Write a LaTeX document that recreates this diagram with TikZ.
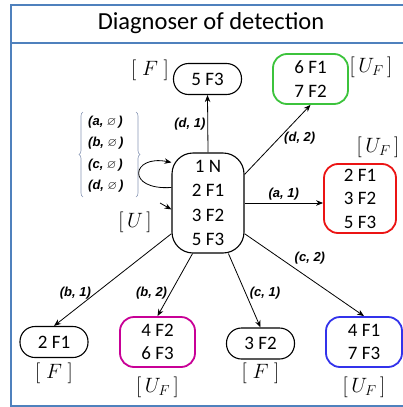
\documentclass[tikz,border=0pt]{standalone}
\usepackage{amssymb}
\usepackage{fontspec}
\setmainfont{Carlito}
\newfontfamily\arialfont{Liberation Sans}
\usetikzlibrary{arrows.meta,decorations.pathreplacing}

\definecolor{framecol}{RGB}{79,129,189}
\definecolor{bracecol}{RGB}{135,150,180}
\definecolor{grn}{RGB}{60,195,60}
\definecolor{rd}{RGB}{235,20,20}
\definecolor{mag}{RGB}{200,0,150}
\definecolor{blu}{RGB}{50,50,235}

\begin{document}
\begin{tikzpicture}[x=1pt,y=-1pt,
  single/.style={draw,line width=1.1pt,rounded corners=15pt,minimum width=68pt,minimum height=31pt,inner sep=0pt,font=\fontsize{19}{23.5}\selectfont},
  multi/.style={draw,line width=1.8pt,rounded corners=14pt,minimum width=75pt,minimum height=50pt,align=center,inner sep=0pt,font=\fontsize{19}{23.5}\selectfont},
  ev/.style={font=\arialfont\bfseries\itshape\fontsize{13}{15}\selectfont,inner sep=2pt},
  tag/.style={font=\fontsize{22}{25}\selectfont,inner sep=0pt},
  tr/.style={-{Stealth[length=7pt,width=5.5pt]},line width=0.8pt},
  bracepath/.style={bracecol,line width=0.6pt,decorate,decoration={brace,amplitude=4pt}}]

\useasboundingbox (0,0) rectangle (403,407);
\draw[framecol,line width=1.6pt] (11,5) rectangle (406,406);
\draw[framecol,line width=1.6pt] (11,43) -- (406,43);
\node (title) at (211,23) {\fontsize{24.5}{28}\selectfont Diagnoser of detection};

% states of the diagnoser
\node[draw,line width=1.1pt,rounded corners=21pt,minimum width=72pt,minimum height=100pt,align=center,inner sep=0pt,font=\fontsize{19}{24.5}\selectfont] (root) at (208,203) {1 N\\2 F1\\3 F2\\5 F3};
\node[single] (t) at (207.5,79) {5 F3};
\node[multi,draw=grn] (g) at (310.5,79) {6 F1\\7 F2};
\node[multi,draw=rd,minimum width=72pt,minimum height=69pt] (r) at (360,198.5) {2 F1\\3 F2\\5 F3};
\node[single] (s1) at (54,342) {2 F1};
\node[multi,draw=mag] (m) at (157.5,342) {4 F2\\6 F3};
\node[single] (s2) at (260.5,343.5) {3 F2};
\node[multi,draw=blu,minimum width=76pt] (b) at (364,342) {4 F1\\7 F3};

% labels
\node[tag] (tagt) at (150,70) {$[\;F\;]$};
\node[tag] (tagg) at (371,67) {$[\,U_{F}\,]$};
\node[tag] (tagr) at (378,147) {$[\,U_{F}\,]$};
\node[tag] (tagu) at (135,222) {$[\,U\,]$};
\node[tag] (tags1) at (54,373) {$[\;F\;]$};
\node[tag] (tagm) at (157.5,387) {$[\,U_{F}\,]$};
\node[tag] (tags2) at (260.5,373) {$[\;F\;]$};
\node[tag] (tagb) at (364,387) {$[\,U_{F}\,]$};

% unobservable self loop
\node[ev,anchor=west] (la) at (86,122) {(a, {\large$\varnothing$}\,)};
\node[ev,anchor=west] (lb) at (86,143.5) {(b, {\large$\varnothing$}\,)};
\node[ev,anchor=west] (lc) at (86,165) {(c, {\large$\varnothing$}\,)};
\node[ev,anchor=west] (ld) at (86,186.5) {(d, {\large$\varnothing$}\,)};
\draw[bracepath] (83,197) -- (83,112);
\draw[bracepath] (136,112) -- (136,197);
\draw[tr] (root.157) .. controls +(-46,3) and +(-40,-8) .. (root.132);

% initial arrow
\coordinate (u0) at (160,203);
\draw[tr] (u0) -- (root.190);

% transitions
\draw[tr] (root.north) -- (t.south) node[ev,midway,left] {(d, 1)};
\draw[tr] (root.38) -- (g.south) node[ev,pos=0.52,right=3pt] {(d, 2)};
\draw[tr] (root.east) -- (root.east -| r.west) node[ev,midway,above] {(a, 1)};
\draw[tr] (root.220) -- (s1.north) node[ev,pos=0.64,left=3pt] {(b, 1)};
\draw[tr] (root.253) -- (m.north) node[ev,pos=0.63,left=1pt] {(b, 2)};
\draw[tr] (root.292) -- (s2.north) node[ev,pos=0.53,right=2pt] {(c, 1)};
\draw[tr] (root.320) -- (b.north) node[ev,pos=0.4,above right] {(c, 2)};

\end{tikzpicture}
\end{document}
